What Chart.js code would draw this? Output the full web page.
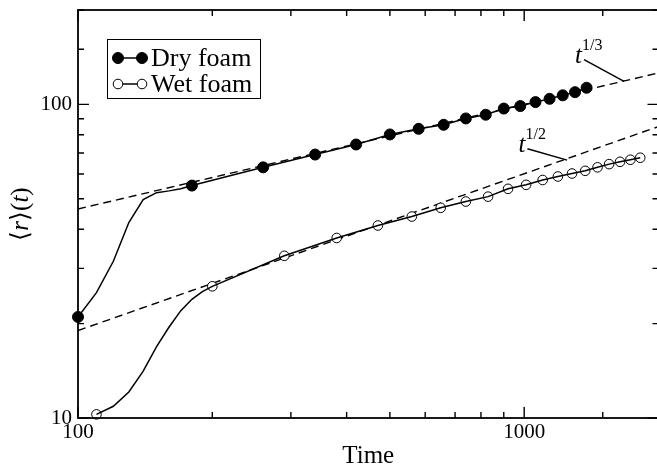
<!DOCTYPE html>
<html>
<head>
<meta charset="utf-8">
<script src="https://cdn.jsdelivr.net/npm/chart.js@4.4.1/dist/chart.umd.min.js"></script>
<style>
  html, body { margin: 0; padding: 0; background: #fff; overflow: hidden; }
  #wrap { width: 657px; height: 466px; overflow: hidden; }
  canvas { display: block; }
</style>
</head>
<body>
<div id="wrap"><canvas id="foamChart" width="665" height="466"></canvas></div>
<script>
// Dry foam: points with a marker, plus the early part of the curve without markers
const dryMarkT = [100, 180, 260, 340, 420, 500, 580, 660, 740, 820, 900, 980, 1060, 1140, 1220, 1300, 1380];
const dryMarkR = [21, 55.1, 63, 69.2, 74.5, 80.2, 83.6, 86.1, 90.2, 92.7, 97, 98.8, 101.7, 104.2, 106.9, 109.4, 113];
const dryEarlyT = [110, 120, 130, 140, 150, 160, 170];
const dryEarlyR = [25.1, 31.6, 42, 49.7, 52.3, 53, 53.8];

// Wet foam
const wetMarkT = [110, 200, 290, 380, 470, 560, 650, 740, 830, 920, 1010, 1100, 1190, 1280, 1370, 1460, 1550, 1640, 1730, 1820];
const wetMarkR = [10.27, 26.3, 32.9, 37.5, 41.1, 43.9, 46.8, 49, 50.8, 53.8, 55.4, 57.4, 58.9, 60.2, 61.4, 63, 64.5, 65.6, 66.6, 67.6];
const wetEarlyT = [120, 130, 140, 150, 160, 170, 180, 190];
const wetEarlyR = [10.9, 12.1, 14.1, 16.9, 19.5, 22, 23.9, 25.3];

// Power law guide lines (end points)
const fitT = [100, 2000];
const fitThirdR = [46.4, 126];
const fitHalfR = [19, 85];

// Leader lines of the t^1/3 and t^1/2 labels
const leaderThirdT = [1362, 1674];
const leaderThirdR = [139, 118.5];
const leaderHalfT = [1017, 1248];
const leaderHalfR = [72.2, 66.4];

const xTicksShown = [100, 1000];
const yTicksShown = [10, 100];

const serif = '"Liberation Serif", "Times New Roman", serif';

function pairs(xs, ys) {
  return xs.map((x, i) => ({ x: x, y: ys[i] }));
}

const dryCurveT = [dryMarkT[0], ...dryEarlyT, ...dryMarkT.slice(1)];
const dryCurveR = [dryMarkR[0], ...dryEarlyR, ...dryMarkR.slice(1)];
const wetCurveT = [wetMarkT[0], ...wetEarlyT, ...wetMarkT.slice(1)];
const wetCurveR = [wetMarkR[0], ...wetEarlyR, ...wetMarkR.slice(1)];

// frame, inward ticks, legend, labels
const decorations = {
  id: 'decorations',
  afterDatasetsDraw(chart) {
    const ctx = chart.ctx;
    const a = chart.chartArea;
    const xs = chart.scales.x, ys = chart.scales.y;
    ctx.save();
    ctx.strokeStyle = '#000';
    ctx.fillStyle = '#000';

    // frame
    ctx.lineWidth = 1.8;
    ctx.strokeRect(a.left, a.top, a.right - a.left, a.bottom - a.top);

    // ticks
    ctx.lineWidth = 1.4;
    xs.ticks.forEach(t => {
      const px = xs.getPixelForValue(t.value);
      const major = Math.abs(Math.log10(t.value) % 1) < 1e-9;
      const len = major ? 11 : 6;
      ctx.beginPath();
      ctx.moveTo(px, a.bottom); ctx.lineTo(px, a.bottom - len);
      ctx.moveTo(px, a.top); ctx.lineTo(px, a.top + len);
      ctx.stroke();
    });
    ys.ticks.forEach(t => {
      const py = ys.getPixelForValue(t.value);
      const major = Math.abs(Math.log10(t.value) % 1) < 1e-9;
      const len = major ? 11 : 6;
      ctx.beginPath();
      ctx.moveTo(a.left, py); ctx.lineTo(a.left + len, py);
      ctx.moveTo(a.right, py); ctx.lineTo(a.right - len, py);
      ctx.stroke();
    });

    // legend
    const lx = 107, ly = 39;
    ctx.lineWidth = 1;
    ctx.strokeRect(lx + 0.5, ly + 0.5, 153, 59);
    const entries = [
      { y: ly + 19, label: 'Dry foam', fill: '#000', r: 5.5 },
      { y: ly + 45, label: 'Wet foam', fill: '#fff', r: 4.8 }
    ];
    entries.forEach(e => {
      ctx.lineWidth = 1.5;
      ctx.beginPath();
      ctx.moveTo(lx + 11, e.y); ctx.lineTo(lx + 35, e.y);
      ctx.stroke();
      [lx + 11, lx + 35].forEach(cx => {
        ctx.beginPath();
        ctx.arc(cx, e.y, e.r, 0, Math.PI * 2);
        ctx.fillStyle = e.fill;
        ctx.fill();
        ctx.lineWidth = 1;
        ctx.stroke();
      });
      ctx.fillStyle = '#000';
      ctx.font = '26px ' + serif;
      ctx.textAlign = 'left';
      ctx.textBaseline = 'alphabetic';
      ctx.fillText(e.label, lx + 44, e.y + 8);
    });

    // power law labels with leader lines
    const labels = [
      { t: leaderThirdT, r: leaderThirdR, sup: '1/3' },
      { t: leaderHalfT, r: leaderHalfR, sup: '1/2' }
    ];
    labels.forEach(l => {
      const x0 = xs.getPixelForValue(l.t[0]), y0 = ys.getPixelForValue(l.r[0]);
      const x1 = xs.getPixelForValue(l.t[1]), y1 = ys.getPixelForValue(l.r[1]);
      ctx.lineWidth = 1.4;
      ctx.beginPath();
      ctx.moveTo(x0, y0); ctx.lineTo(x1, y1);
      ctx.stroke();
      ctx.font = 'italic 25px ' + serif;
      ctx.textAlign = 'right';
      ctx.fillText('t', x0 - 2, y0 + 3);
      ctx.font = '16px ' + serif;
      ctx.textAlign = 'left';
      ctx.fillText(l.sup, x0 - 2, y0 - 10);
    });

    // y axis title <r>(t), with italic r and t
    const parts = [
      { s: '\u27E8', f: '25px ' + serif },
      { s: 'r', f: 'italic 25px ' + serif },
      { s: '\u27E9(', f: '25px ' + serif },
      { s: 't', f: 'italic 25px ' + serif },
      { s: ')', f: '25px ' + serif }
    ];
    let total = 0;
    parts.forEach(p => { ctx.font = p.f; p.w = ctx.measureText(p.s).width; total += p.w; });
    ctx.translate(28, 214);
    ctx.rotate(-Math.PI / 2);
    ctx.textAlign = 'left';
    let cx = -total / 2;
    parts.forEach(p => { ctx.font = p.f; ctx.fillText(p.s, cx, 0); cx += p.w; });
    ctx.restore();
  }
};

new Chart(document.getElementById('foamChart'), {
  type: 'scatter',
  data: {
    datasets: [
      { label: 'Dry foam', data: pairs(dryCurveT, dryCurveR), showLine: true, borderColor: '#000', borderWidth: 1.5, pointRadius: 0, tension: 0 },
      { label: 'Dry foam markers', data: pairs(dryMarkT, dryMarkR), showLine: false, pointRadius: 5.5, backgroundColor: '#000', borderColor: '#000', borderWidth: 1, clip: false },
      { label: 'Wet foam', data: pairs(wetCurveT, wetCurveR), showLine: true, borderColor: '#000', borderWidth: 1.5, pointRadius: 0, tension: 0 },
      { label: 'Wet foam markers', data: pairs(wetMarkT, wetMarkR), showLine: false, pointRadius: 4.8, backgroundColor: '#fff', borderColor: '#000', borderWidth: 1, clip: false },
      { label: 't^1/3', data: pairs(fitT, fitThirdR), showLine: true, borderColor: '#000', borderWidth: 1.4, borderDash: [8, 5], pointRadius: 0 },
      { label: 't^1/2', data: pairs(fitT, fitHalfR), showLine: true, borderColor: '#000', borderWidth: 1.4, borderDash: [8, 5], pointRadius: 0 }
    ]
  },
  options: {
    responsive: false,
    animation: false,
    layout: { padding: { top: 10, right: 2, left: 0, bottom: 0 } },
    plugins: { legend: { display: false }, tooltip: { enabled: false } },
    scales: {
      x: {
        type: 'logarithmic',
        min: 100,
        max: 2000,
        grid: { display: false, drawTicks: false },
        border: { display: false },
        ticks: {
          autoSkip: false, maxRotation: 0, padding: 2, color: '#000',
          font: { family: serif, size: 21 },
          callback: v => xTicksShown.includes(v) ? String(v) : ''
        },
        title: { display: true, text: 'Time', color: '#000', font: { family: serif, size: 25 }, padding: { top: 0, bottom: -5 } },
        afterFit: s => { s.height = 48; s.paddingLeft = 0; s.paddingRight = 0; }
      },
      y: {
        type: 'logarithmic',
        min: 10,
        max: 200,
        grid: { display: false, drawTicks: false },
        border: { display: false },
        ticks: {
          autoSkip: false, padding: 6, color: '#000',
          font: { family: serif, size: 21 },
          callback: v => yTicksShown.includes(v) ? String(v) : ''
        },
        afterFit: s => { s.width = 78; s.paddingTop = 0; s.paddingBottom = 0; }
      }
    }
  },
  plugins: [decorations]
});
</script>
</body>
</html>
